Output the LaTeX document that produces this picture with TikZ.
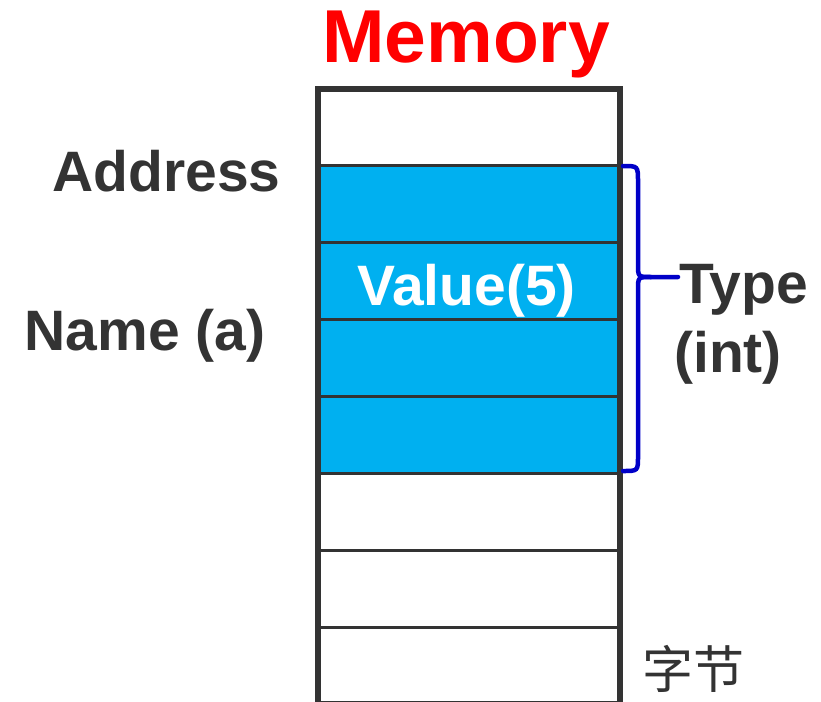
\documentclass[tikz,border=0pt]{standalone}
\usepackage{fontspec}
\setmainfont{Liberation Sans}
\newfontfamily\cjk{Noto Sans CJK SC}
\definecolor{cellblue}{HTML}{00B0F0}
\definecolor{darkgray}{HTML}{333333}
\definecolor{bracecol}{HTML}{0000C8}
\begin{document}
\begin{tikzpicture}[x=1pt,y=-1pt,
  lbl/.style={inner sep=0pt, font=\fontsize{57}{60}\selectfont\bfseries, text=darkgray},
  divider/.style={draw=darkgray, line width=3pt},
  outer/.style={draw=darkgray, line width=6pt},
  bracestyle/.style={draw=bracecol, line width=4.5pt, line cap=round}]
\useasboundingbox (0,0) rectangle (821,701);
% blue cells
\fill[cellblue] (318,165) rectangle (620,473);
% dividers
\foreach \y in {165,242,319,396,473,550,627}
  \draw[divider] (318,\y) -- (620,\y);
% outer box
\draw[outer] (318,720) -- (318,89) -- (620,89) -- (620,720);
\draw[divider] (318,702) -- (620,702);
% texts
\node[inner sep=0pt, anchor=base, font=\fontsize{75}{78}\selectfont\bfseries, text=red] (mem) at (466,63) {Memory};
\node[lbl, anchor=base] (addr) at (166.5,191) {Address};
\node[lbl, anchor=base] (name) at (145,350) {Name (a)};
\node[lbl, anchor=base, text=white] (val) at (466.5,305) {Value(5)};
\node[lbl, anchor=base west] (type) at (679,303) {Type};
\node[lbl, anchor=base west] (int) at (674,372) {(int)};
\node[inner sep=0pt, anchor=base west, font=\fontsize{51}{53}\selectfont\cjk, text=darkgray] (byte) at (642,688) {字节};
% brace
\coordinate (btop) at (623,166);
\coordinate (bbot) at (623,471);
\coordinate (btip) at (678,277);
\draw[bracestyle]
  (btop) .. controls (638,166) .. (638,182) -- (638,264)
  .. controls (638,277) .. (651,277) -- (btip);
\draw[bracestyle]
  (651,277) .. controls (638,277) .. (638,290) -- (638,456)
  .. controls (638,471) .. (bbot);
\end{tikzpicture}
\end{document}
